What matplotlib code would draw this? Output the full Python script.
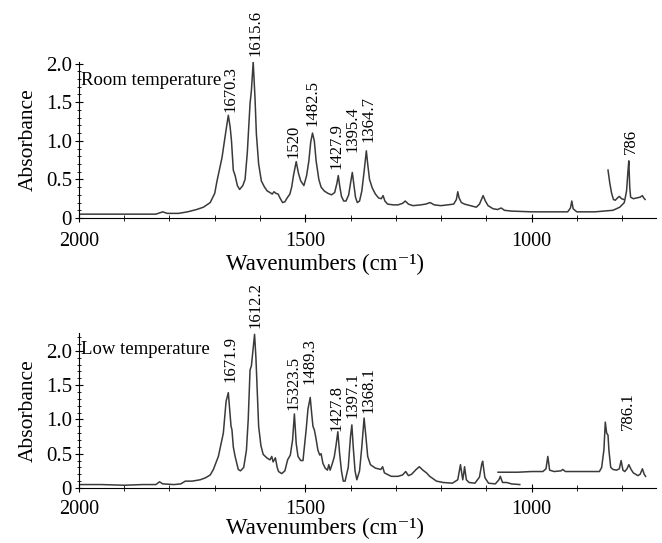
import matplotlib
matplotlib.use('Agg')
import matplotlib.pyplot as plt
from matplotlib.ticker import MultipleLocator
import numpy as np

plt.rcParams['font.family'] = ['Liberation Serif', 'DejaVu Serif']

# room temperature spectrum (wavenumber, absorbance)
room_wn = [2000, 1900, 1830, 1815, 1805, 1780, 1760, 1740, 1725, 1710, 1700, 1695, 1684, 1676,
           1670, 1666, 1663, 1659, 1655, 1650, 1645, 1638, 1633, 1628, 1625, 1622, 1619, 1615,
           1611, 1608, 1603, 1597, 1590, 1584, 1578, 1573, 1569, 1565, 1560, 1555, 1550, 1545,
           1540, 1534, 1530, 1526, 1520, 1515, 1510, 1503, 1497, 1492, 1488, 1484, 1480, 1476,
           1470, 1465, 1458, 1450, 1442, 1435, 1430, 1427, 1424, 1420, 1415, 1410, 1404, 1400,
           1396, 1393, 1389, 1385, 1380, 1375, 1370, 1365, 1362, 1358, 1352, 1345, 1338, 1332,
           1328, 1324, 1318, 1305, 1295, 1285, 1279, 1272, 1262, 1245, 1234, 1224, 1215, 1200,
           1185, 1172, 1166, 1163, 1160, 1155, 1148, 1135, 1122, 1115, 1107, 1102, 1096, 1085,
           1075, 1067, 1060, 1045, 1000, 960, 920, 914, 911, 908, 900, 860, 820, 805,
           795, 790, 787, 785, 783, 781, 775, 768, 760, 755, 752, 749]
room_abs = [0.05, 0.05, 0.05, 0.08, 0.06, 0.06, 0.08, 0.11, 0.14, 0.20, 0.32, 0.48, 0.78, 1.10,
            1.33, 1.18, 1.00, 0.62, 0.55, 0.42, 0.37, 0.42, 0.50, 0.85, 1.17, 1.48, 1.65, 2.02,
            1.55, 1.09, 0.70, 0.48, 0.40, 0.35, 0.33, 0.31, 0.34, 0.32, 0.31, 0.25, 0.20, 0.21,
            0.26, 0.31, 0.40, 0.55, 0.73, 0.58, 0.48, 0.42, 0.55, 0.74, 0.98, 1.10, 1.00, 0.74,
            0.50, 0.40, 0.35, 0.32, 0.30, 0.33, 0.45, 0.55, 0.42, 0.28, 0.22, 0.22, 0.30, 0.45,
            0.59, 0.45, 0.27, 0.20, 0.22, 0.35, 0.60, 0.87, 0.70, 0.50, 0.39, 0.31, 0.26, 0.25,
            0.29, 0.22, 0.18, 0.17, 0.17, 0.19, 0.22, 0.18, 0.16, 0.17, 0.18, 0.20, 0.17, 0.16,
            0.17, 0.18, 0.24, 0.34, 0.26, 0.20, 0.18, 0.16, 0.14, 0.18, 0.29, 0.22, 0.16, 0.12,
            0.11, 0.13, 0.10, 0.09, 0.08, 0.08, 0.08, 0.13, 0.22, 0.12, 0.08, 0.08, 0.10, 0.14,
            0.20, 0.35, 0.60, 0.74, 0.40, 0.27, 0.25, 0.26, 0.27, 0.29, 0.26, 0.24]
room_inset_wn = [831, 827, 823, 819, 815, 810, 806, 801, 796]
room_inset_abs = [0.62, 0.45, 0.32, 0.24, 0.23, 0.26, 0.28, 0.25, 0.24]

# low temperature spectrum
low_wn = [2000, 1950, 1900, 1860, 1830, 1822, 1815, 1790, 1775, 1765, 1750, 1732, 1720, 1710,
          1703, 1692, 1681, 1675, 1670, 1667, 1664, 1662, 1659, 1655, 1648, 1643, 1636, 1630,
          1626, 1622, 1619, 1612, 1609, 1606, 1603, 1598, 1593, 1585, 1578, 1574, 1571, 1566,
          1562, 1559, 1552, 1545, 1539, 1533, 1528, 1524, 1520, 1516, 1510, 1505, 1498, 1494,
          1489, 1486, 1483, 1480, 1477, 1472, 1468, 1465, 1461, 1456, 1451, 1448, 1445, 1440,
          1436, 1432, 1428, 1424, 1420, 1416, 1412, 1405, 1400, 1397, 1394, 1390, 1386, 1380,
          1375, 1370, 1366, 1362, 1356, 1345, 1333, 1329, 1325, 1310, 1295, 1285, 1278, 1272,
          1265, 1255, 1248, 1240, 1232, 1225, 1210, 1195, 1175, 1163, 1157, 1152, 1150, 1148,
          1144, 1138, 1125, 1115, 1110, 1108, 1103, 1095, 1080, 1072, 1069, 1064, 1055, 1049,
          1045, 1026]
low_abs = [0.05, 0.05, 0.04, 0.05, 0.05, 0.09, 0.06, 0.05, 0.06, 0.10, 0.10, 0.12, 0.15, 0.19,
           0.27, 0.46, 0.80, 1.26, 1.39, 1.14, 0.90, 0.85, 0.60, 0.46, 0.27, 0.25, 0.30, 0.55,
           1.00, 1.72, 1.78, 2.24, 1.90, 1.40, 0.90, 0.62, 0.49, 0.44, 0.41, 0.46, 0.38, 0.44,
           0.30, 0.24, 0.21, 0.25, 0.41, 0.48, 0.70, 1.08, 0.65, 0.46, 0.40, 0.40, 0.85, 1.15,
           1.32, 1.10, 0.90, 0.85, 0.75, 0.55, 0.48, 0.50, 0.36, 0.29, 0.26, 0.34, 0.26, 0.36,
           0.45, 0.62, 0.82, 0.50, 0.25, 0.10, 0.10, 0.30, 0.75, 0.92, 0.60, 0.25, 0.12, 0.25,
           0.60, 1.02, 0.75, 0.46, 0.34, 0.29, 0.27, 0.31, 0.22, 0.17, 0.17, 0.19, 0.24, 0.18,
           0.20, 0.27, 0.31, 0.26, 0.22, 0.17, 0.10, 0.08, 0.07, 0.12, 0.34, 0.12, 0.20, 0.31,
           0.12, 0.08, 0.07, 0.16, 0.35, 0.39, 0.15, 0.07, 0.06, 0.12, 0.17, 0.08, 0.08, 0.07,
           0.06, 0.05]
low_inset_wn = [1074, 1030, 1000, 975, 968, 964, 960, 950, 935, 931, 925, 880, 850, 845,
                840, 837, 834, 831, 829, 825, 820, 812, 806, 802, 798, 794, 789, 785,
                780, 775, 765, 760, 755, 751, 748]
low_inset_abs = [0.23, 0.23, 0.24, 0.24, 0.28, 0.46, 0.26, 0.24, 0.25, 0.27, 0.24, 0.24, 0.24, 0.30,
                 0.56, 0.96, 0.80, 0.77, 0.55, 0.30, 0.27, 0.26, 0.28, 0.40, 0.26, 0.24, 0.28, 0.34,
                 0.27, 0.22, 0.18, 0.20, 0.28, 0.20, 0.17]

# peak labels: text, wavenumber, absorbance of label foot
room_labels = ['1670.3', '1615.6', '1520', '1482.5', '1427.9', '1395.4', '1364.7', '786']
room_label_wn = [1666, 1611, 1527, 1483, 1431, 1396, 1360, 781]
room_label_abs = [1.37, 2.10, 0.78, 1.19, 0.63, 0.85, 0.98, 0.83]

low_labels = ['1671.9', '1612.2', '15323.5', '1489.3', '1427.8', '1397.1', '1368.1', '786.1']
low_label_wn = [1666, 1611, 1527, 1490, 1431, 1396, 1360, 788]
low_label_abs = [1.55, 2.33, 1.14, 1.51, 0.83, 1.02, 1.09, 0.85]


def panel(ax, wn, ab, iwn, iab, labels, lwn, lab, title, ytop, title_y, xpad):
    ax.plot(wn, ab, color='#3a3a3a', lw=1.1)
    ax.plot(iwn, iab, color='#3a3a3a', lw=1.1)
    for t, x, y in zip(labels, lwn, lab):
        ax.text(x, y, t, rotation=90, ha='center', va='bottom', fontsize=12, clip_on=False)
    ax.text(1995, title_y, title, ha='left', va='center', fontsize=13.5)
    ax.set_xlim(2000, 725)
    ax.set_ylim(0, ytop)
    ax.set_xticks([2000, 1500, 1000])
    ax.xaxis.set_minor_locator(MultipleLocator(100))
    ax.set_yticks([0, 0.5, 1.0, 1.5, 2.0])
    ax.set_yticklabels(['0', '0.5', '1.0', '1.5', '2.0'])
    ax.yaxis.set_minor_locator(MultipleLocator(0.1))
    ax.spines['top'].set_visible(False)
    ax.spines['right'].set_visible(False)
    ax.tick_params(axis='x', which='major', direction='inout', length=6, pad=xpad, labelsize=14.5)
    ax.tick_params(axis='x', which='minor', direction='inout', length=4)
    ax.tick_params(axis='y', which='major', direction='inout', length=6, pad=2, labelsize=15)
    ax.tick_params(axis='y', which='minor', direction='inout', length=3)
    ax.set_ylabel('Absorbance', fontsize=15.5)
    ax.yaxis.set_label_coords(-0.071, 0.5)
    ax.set_xlabel('Wavenumbers (cm\u207b\u00b9)', fontsize=16.5, va='center')


fig = plt.figure(figsize=(6.62, 5.43), dpi=100)
ax1 = fig.add_axes([0.1193, 0.5985, 0.8716, 0.2873])
ax2 = fig.add_axes([0.1193, 0.1013, 0.8716, 0.2855])

panel(ax1, room_wn, room_abs, room_inset_wn, room_inset_abs, room_labels, room_label_wn,
      room_label_abs, 'Room temperature', 2.02, 1.78, 7)
ax1.xaxis.set_label_coords(0.426, -0.295)
panel(ax2, low_wn, low_abs, low_inset_wn, low_inset_abs, low_labels, low_label_wn,
      low_label_abs, 'Low temperature', 2.26, 2.02, 6)
ax2.xaxis.set_label_coords(0.426, -0.26)

fig.savefig('out.png', dpi=100)
